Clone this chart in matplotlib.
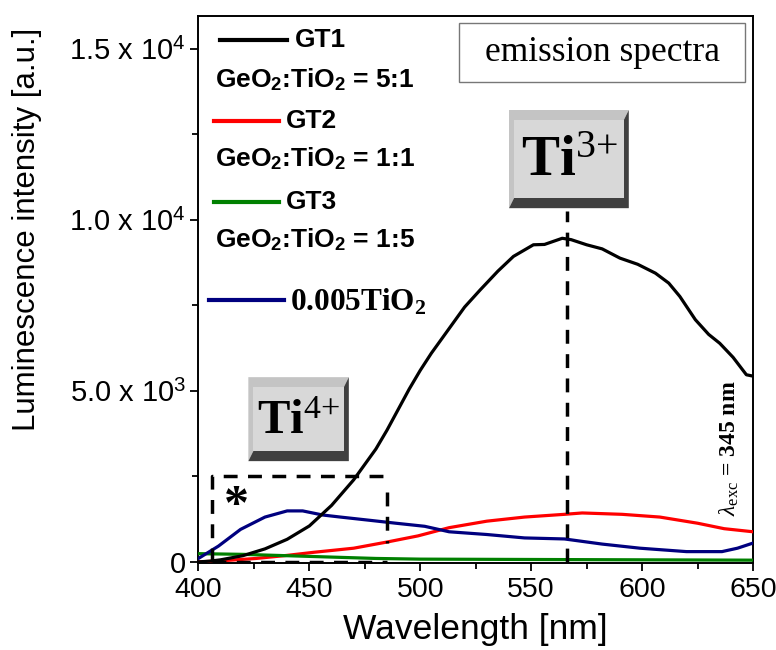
import matplotlib.pyplot as plt
from matplotlib.patches import Polygon, Rectangle
from matplotlib.ticker import FixedLocator, FixedFormatter, MultipleLocator

plt.rcParams['mathtext.fontset'] = 'custom'
plt.rcParams['mathtext.rm'] = 'Liberation Serif'
plt.rcParams['mathtext.it'] = 'Liberation Serif:italic'
plt.rcParams['mathtext.bf'] = 'Liberation Sans:bold'
plt.rcParams['mathtext.sf'] = 'Liberation Sans'
plt.rcParams['mathtext.tt'] = 'Liberation Serif:bold'

# emission spectra
wl_gt1 = [400, 405, 410, 420, 430, 440, 450, 460, 470, 475, 480, 485, 490, 495, 500, 505,
          510, 515, 520, 527, 535, 542, 551, 556, 564, 568, 575, 582, 590, 598, 606,
          612, 617, 624, 630, 635, 641, 647, 650]
gt1 = [0, 20, 60, 180, 380, 660, 1050, 1650, 2400, 2850, 3300, 3850, 4450, 5050, 5600, 6100,
       6550, 7000, 7450, 7950, 8500, 8930, 9270, 9280, 9460, 9420, 9270, 9150, 8880, 8700, 8440,
       8150, 7760, 7080, 6650, 6390, 5980, 5470, 5430]

wl_gt2 = [400, 410, 426, 440, 452, 470, 485, 499, 513, 530, 547, 565, 573, 591, 608, 625, 637, 650]
gt2 = [0, 30, 100, 190, 280, 400, 580, 760, 1000, 1190, 1310, 1390, 1430, 1390, 1310, 1130, 970, 880]

wl_gt3 = [400, 420, 450, 480, 500, 550, 600, 650]
gt3 = [240, 220, 160, 100, 80, 70, 60, 50]

wl_ti = [400, 409, 419, 430, 440, 447, 456, 464, 478, 489, 502, 513, 530, 547, 565,
         582, 599, 620, 636, 643, 650]
ti = [100, 460, 950, 1310, 1490, 1490, 1370, 1310, 1210, 1130, 1040, 880, 800, 700, 670,
      520, 400, 300, 300, 400, 550]

ytick_values = [0, 5000, 10000, 15000]
ytick_labels = ['0', '5.0 x 10$^\\mathsf{3}$', '1.0 x 10$^\\mathsf{4}$', '1.5 x 10$^\\mathsf{4}$']
xtick_values = [400, 450, 500, 550, 600, 650]

fig = plt.figure(figsize=(7.76, 6.5), dpi=100)
ax = fig.add_axes([0.2557, 0.134, 0.7147, 0.842])

ax.plot(wl_gt1, gt1, color='black', lw=2.3, zorder=5)
ax.plot(wl_gt2, gt2, color='#ff0000', lw=2.3, zorder=4)
ax.plot(wl_gt3, gt3, color='#008000', lw=2.3, zorder=4)
ax.plot(wl_ti, ti, color='#00007f', lw=2.3, zorder=4)

ax.set_xlim(400, 650)
ax.set_ylim(-30, 15970)
ax.xaxis.set_major_locator(FixedLocator(xtick_values))
ax.xaxis.set_minor_locator(MultipleLocator(25))
ax.yaxis.set_major_locator(FixedLocator(ytick_values))
ax.yaxis.set_major_formatter(FixedFormatter(ytick_labels))
ax.yaxis.set_minor_locator(MultipleLocator(2500))
ax.tick_params(which='both', direction='out', width=1.3, top=False, right=False)
ax.tick_params(which='major', length=6)
ax.tick_params(which='minor', length=4)
ax.tick_params(axis='x', labelsize=20.5, pad=4)
ax.tick_params(axis='y', labelsize=21, pad=3)
for lab in ax.get_xticklabels() + ax.get_yticklabels():
    lab.set_family('Liberation Sans')
for sp in ax.spines.values():
    sp.set_linewidth(1.4)

ax.set_xlabel('Wavelength [nm]', family='Liberation Sans', fontsize=25.5)
ax.xaxis.set_label_coords(0.5, -0.092)
ax.set_ylabel('Luminescence intensity [a.u.]', family='Liberation Sans', fontsize=22.5)
ax.yaxis.set_label_coords(-0.282, 0.61)

# legend-like labels
leg = dict(family='Liberation Sans', fontweight='bold', fontsize=19, va='center')
ax.plot([409.9, 440.1], [15250, 15250], color='black', lw=3)
ax.text(443.3, 15250, 'GT1', **leg)
ax.text(407.5, 14100, 'GeO$_\\mathbf{2}$:TiO$_\\mathbf{2}$ = 5:1', **leg)
ax.plot([406.9, 436.3], [12885, 12885], color='#ff0000', lw=3)
ax.text(439.5, 12885, 'GT2', **leg)
ax.text(407.5, 11790, 'GeO$_\\mathbf{2}$:TiO$_\\mathbf{2}$ = 1:1', **leg)
ax.plot([406.9, 436.3], [10520, 10520], color='#008000', lw=3)
ax.text(439.5, 10520, 'GT3', **leg)
ax.text(407.5, 9430, 'GeO$_\\mathbf{2}$:TiO$_\\mathbf{2}$ = 1:5', **leg)
ax.plot([404.7, 438.4], [7670, 7670], color='#00007f', lw=3)
ax.text(441.5, 7600, '0.005TiO$_\\mathtt{2}$', family='Liberation Serif', fontweight='bold',
        fontsize=22.5, va='center')

# emission spectra box
ax.add_patch(Rectangle((517.5, 14040), 128.9, 1720, fill=False, ec='#777777', lw=1, zorder=6))
ax.text(582, 14880, 'emission spectra', family='Liberation Serif', fontsize=25.5,
        ha='center', va='center', zorder=7)


def bevel_box(x0, x1, y0, y1, dx, dy, label, size):
    ax.add_patch(Polygon([(x0, y0), (x0, y1), (x1, y1), (x1 - dx, y1 - dy),
                          (x0 + dx, y1 - dy), (x0 + dx, y0 + dy)],
                         closed=True, fc='#c4c4c4', ec='none', zorder=6))
    ax.add_patch(Polygon([(x0, y0), (x1, y0), (x1, y1), (x1 - dx, y1 - dy),
                          (x1 - dx, y0 + dy), (x0 + dx, y0 + dy)],
                         closed=True, fc='#404040', ec='none', zorder=6))
    ax.add_patch(Rectangle((x0 + dx, y0 + dy), x1 - x0 - 2 * dx, y1 - y0 - 2 * dy,
                           fc='#d8d8d8', ec='none', zorder=6))
    ax.text((x0 + x1) / 2, (y0 + y1) / 2 - 80, label, family='Liberation Serif',
            fontweight='bold', fontsize=size, ha='center', va='center', zorder=7)


bevel_box(540, 594, 10340, 13210, 2.3, 300, 'Ti$^{\\mathrm{3{+}}}$', 41)
bevel_box(422.5, 467.8, 2945, 5400, 2.3, 300, 'Ti$^{\\mathrm{4{+}}}$', 35)

# guide lines
ax.plot([566.3, 566.3], [0, 10250], color='black', lw=2.5, ls=(0, (4, 3)), zorder=5)
dash = dict(color='black', lw=2.5, ls=(0, (4, 3)), zorder=5)
ax.plot([406, 406, 485], [0, 2500, 2500], **dash)
ax.plot([485, 485], [2050, 550], **dash)
ax.plot([406, 485], [0, 0], **dash)
ax.text(417, 1600, '*', family='Liberation Serif', fontweight='bold', fontsize=36,
        ha='center', va='center')

ax.text(639.5, 3330, '$\\lambda_\\mathrm{exc}$ = 345 nm', family='Liberation Serif',
        fontweight='bold', fontsize=17, rotation=90, ha='center', va='center')

fig.savefig('out.png', dpi=100)
